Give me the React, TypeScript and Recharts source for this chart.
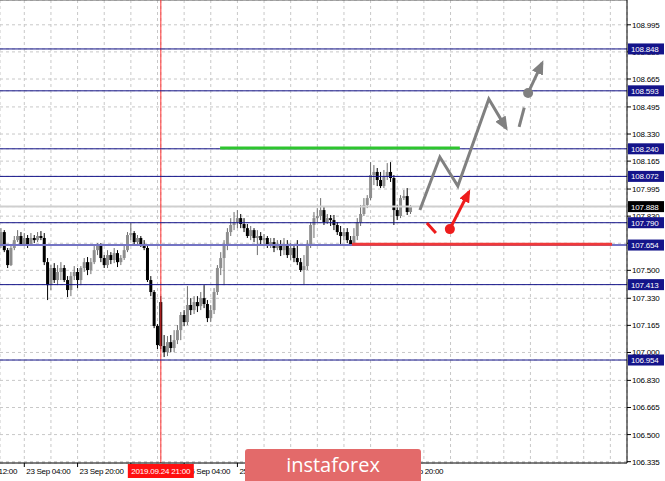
import React from "react";
import {
  ComposedChart,
  Bar,
  Line,
  Scatter,
  XAxis,
  YAxis,
  CartesianGrid,
  ReferenceLine,
} from "recharts";

// USDJPY H1, hour index 0 = first bar on the chart
const opens = [
  107.654, 107.733, 107.623, 107.532, 107.636, 107.684, 107.709, 107.66, 107.697, 107.66,
  107.697, 107.684, 107.709, 107.697, 107.55, 107.41, 107.514, 107.441, 107.49, 107.514,
  107.441, 107.38, 107.465, 107.49, 107.441, 107.514, 107.55, 107.502, 107.55, 107.623,
  107.654, 107.575, 107.532, 107.593, 107.563, 107.605, 107.55, 107.575, 107.623, 107.715,
  107.727, 107.672, 107.697, 107.654, 107.636, 107.441, 107.368, 107.161, 107.307, 107.039,
  107.002, 107.063, 107.027, 107.075, 107.136, 107.228, 107.185, 107.289, 107.258, 107.307,
  107.282, 107.331, 107.295, 107.209, 107.258, 107.368, 107.514, 107.575, 107.654, 107.733,
  107.776, 107.794, 107.818, 107.782, 107.757, 107.709, 107.745, 107.697, 107.709, 107.684,
  107.697, 107.654, 107.672, 107.636, 107.66, 107.623, 107.66, 107.593, 107.636, 107.575,
  107.55, 107.502, 107.526, 107.654, 107.776, 107.818, 107.831, 107.867, 107.794, 107.818,
  107.806, 107.776, 107.733, 107.709, 107.733, 107.684, 107.66, 107.709, 107.794, 107.843,
  107.898, 107.94, 108.08, 108.099, 108.05, 108.013, 108.074, 108.099, 108.062, 107.867,
  107.831, 107.94, 107.952, 107.855,
];
const highs = [
  107.757, 107.745, 107.636, 107.654, 107.709, 107.745, 107.733, 107.727, 107.715, 107.727,
  107.715, 107.733, 107.739, 107.727, 107.575, 107.532, 107.544, 107.532, 107.55, 107.532,
  107.465, 107.49, 107.526, 107.514, 107.526, 107.575, 107.581, 107.575, 107.648, 107.666,
  107.666, 107.593, 107.623, 107.611, 107.636, 107.623, 107.593, 107.654, 107.733, 107.788,
  107.739, 107.715, 107.709, 107.684, 107.648, 107.465, 107.38, 107.173, 107.343, 107.106,
  107.1, 107.106, 107.136, 107.167, 107.246, 107.258, 107.404, 107.331, 107.343, 107.343,
  107.368, 107.41, 107.319, 107.289, 107.392, 107.532, 107.611, 107.684, 107.757, 107.818,
  107.855, 107.867, 107.843, 107.818, 107.782, 107.77, 107.757, 107.745, 107.733, 107.721,
  107.709, 107.697, 107.697, 107.684, 107.684, 107.697, 107.684, 107.666, 107.654, 107.684,
  107.575, 107.593, 107.684, 107.794, 107.855, 107.879, 107.94, 107.885, 107.843, 107.837,
  107.837, 107.794, 107.77, 107.757, 107.757, 107.709, 107.757, 107.818, 107.898, 107.94,
  107.958, 108.159, 108.141, 108.123, 108.099, 108.111, 108.153, 108.159, 108.08, 107.898,
  107.958, 107.989, 108.001, 107.898,
];
const lows = [
  107.636, 107.611, 107.514, 107.526, 107.623, 107.672, 107.648, 107.648, 107.636, 107.648,
  107.666, 107.672, 107.684, 107.532, 107.319, 107.38, 107.423, 107.41, 107.441, 107.429,
  107.337, 107.343, 107.441, 107.392, 107.41, 107.49, 107.471, 107.477, 107.538, 107.593,
  107.55, 107.514, 107.514, 107.538, 107.544, 107.52, 107.532, 107.563, 107.611, 107.684,
  107.654, 107.648, 107.642, 107.623, 107.429, 107.343, 107.148, 107.021, 107.021, 106.972,
  106.978, 107.002, 107.002, 107.051, 107.075, 107.161, 107.167, 107.228, 107.234, 107.246,
  107.258, 107.27, 107.185, 107.185, 107.234, 107.35, 107.471, 107.41, 107.623, 107.709,
  107.745, 107.757, 107.757, 107.733, 107.697, 107.684, 107.672, 107.593, 107.66, 107.648,
  107.636, 107.636, 107.611, 107.623, 107.587, 107.593, 107.575, 107.563, 107.55, 107.532,
  107.49, 107.41, 107.502, 107.636, 107.697, 107.794, 107.806, 107.776, 107.782, 107.77,
  107.745, 107.715, 107.654, 107.684, 107.666, 107.648, 107.648, 107.684, 107.77, 107.831,
  107.879, 107.928, 108.019, 108.013, 108.001, 108.001, 108.05, 108.038, 107.776, 107.806,
  107.818, 107.928, 107.837, 107.843,
];
const closes = [
  107.733, 107.623, 107.532, 107.636, 107.684, 107.709, 107.66, 107.697, 107.66, 107.697,
  107.684, 107.709, 107.697, 107.55, 107.41, 107.514, 107.441, 107.49, 107.514, 107.441,
  107.38, 107.465, 107.49, 107.441, 107.514, 107.55, 107.502, 107.55, 107.623, 107.654,
  107.575, 107.532, 107.593, 107.563, 107.605, 107.55, 107.575, 107.623, 107.715, 107.727,
  107.672, 107.697, 107.654, 107.636, 107.441, 107.368, 107.161, 107.045, 107.039, 107.002,
  107.063, 107.027, 107.075, 107.136, 107.228, 107.185, 107.289, 107.258, 107.307, 107.282,
  107.331, 107.295, 107.209, 107.258, 107.368, 107.514, 107.575, 107.654, 107.733, 107.776,
  107.794, 107.818, 107.782, 107.757, 107.709, 107.745, 107.697, 107.709, 107.684, 107.697,
  107.654, 107.672, 107.636, 107.66, 107.623, 107.66, 107.593, 107.636, 107.575, 107.55,
  107.502, 107.526, 107.654, 107.776, 107.818, 107.831, 107.867, 107.794, 107.818, 107.806,
  107.776, 107.733, 107.709, 107.733, 107.684, 107.66, 107.709, 107.794, 107.843, 107.898,
  107.94, 108.08, 108.099, 108.05, 108.013, 108.074, 108.099, 108.062, 107.867, 107.831,
  107.94, 107.952, 107.855, 107.888,
];

const priceTicks = [
  108.995, 108.83, 108.665, 108.495, 108.33, 108.165, 107.995, 107.83, 107.665,
  107.5, 107.33, 107.165, 107.0, 106.83, 106.665, 106.5, 106.335,
];
const levels = [108.848, 108.593, 108.24, 108.072, 107.79, 107.654, 107.413, 106.954];
const bidPrice = 107.888;

const gridHours = [
  -9, -1, 7, 15, 23, 31, 39, 47, 55, 63, 71, 79, 87, 95, 103, 111, 119, 127, 135,
  143, 151, 159, 167, 175, 183,
];
const timeLabels: Record<number, string> = {
  [-9]: "22 Sep 12:00",
  7: "23 Sep 04:00",
  23: "23 Sep 20:00",
  39: "24 Sep 12:00",
  55: "25 Sep 04:00",
  71: "25 Sep 20:00",
  87: "26 Sep 12:00",
  103: "27 Sep 04:00",
  119: "27 Sep 20:00",
};
const cursorHour = 48;
const cursorLabel = "2019.09.24 21:00";

// forecast drawing
const resistanceSeg = [{ t: 65.8, p: 108.245 }, { t: 137.8, p: 108.245 }];
const supportSeg = [{ t: 105.4, p: 107.659 }, { t: 183.5, p: 107.659 }];
const bullPath = [
  { t: 125.8, p: 107.867 },
  { t: 131.8, p: 108.19 },
  { t: 137.2, p: 108.013 },
  { t: 146.5, p: 108.543 },
  { t: 151.7, p: 108.366 },
];
const bullDash = [{ t: 155.6, p: 108.373 }, { t: 158.3, p: 108.58 }];
const bullBreak = [{ t: 158.3, p: 108.58 }, { t: 162.5, p: 108.762 }];
const bullDot = [{ t: 158.3, p: 108.58 }];
const bearTick = [{ t: 127.9, p: 107.788 }, { t: 130.6, p: 107.727 }];
const bearArrow = [{ t: 134.8, p: 107.751 }, { t: 140.5, p: 107.977 }];
const bearDot = [{ t: 134.8, p: 107.751 }];

const candles = closes.map((c, i) => ({
  t: i,
  o: opens[i],
  h: highs[i],
  l: lows[i],
  c,
  range: [lows[i], highs[i]],
}));

const FONT = "'Liberation Sans', Arial, sans-serif";
const NAVY = "#14148a";

const Candle = (props: any) => {
  const { x, y, width, height, payload } = props;
  if (!payload || height == null) return null;
  const { o, h, l, c } = payload;
  const k = height / (h - l);
  const cx = x + width / 2;
  const top = y + (h - Math.max(o, c)) * k;
  const bot = y + (h - Math.min(o, c)) * k;
  const bull = c >= o;
  return (
    <g>
      <line x1={cx} x2={cx} y1={y} y2={y + height} stroke={bull ? "#6e6e6e" : "#000"} strokeWidth={1} />
      <rect
        x={cx - 1.5}
        y={top}
        width={3}
        height={Math.max(1, bot - top)}
        fill={bull ? "#8e8e8e" : "#000"}
      />
    </g>
  );
};

const PriceTick = (props: any) => {
  const { x, y, payload } = props;
  const v = payload.value;
  const boxed = levels.includes(v) || v === bidPrice;
  if (boxed) {
    return (
      <g>
        <rect x={x + 1} y={y - 5.5} width={36} height={11} fill={v === bidPrice ? "#000" : NAVY} />
        <text x={x + 4} y={y + 3} fill="#fff" fontSize={8} fontFamily={FONT} letterSpacing={-0.2}>
          {v.toFixed(3)}
        </text>
      </g>
    );
  }
  return (
    <g>
      <line x1={x} x2={x + 4} y1={y} y2={y} stroke="#000" />
      <text x={x + 5} y={y + 3} fill="#000" fontSize={8} fontFamily={FONT} letterSpacing={-0.2}>
        {v.toFixed(3)}
      </text>
    </g>
  );
};

const TimeTick = (props: any) => {
  const { x, y, payload } = props;
  const v = payload.value;
  if (v === cursorHour) {
    return (
      <g>
        <rect x={x - 33} y={y + 1} width={66} height={14} fill="#ff1010" />
        <text x={x} y={y + 11} textAnchor="middle" fill="#fff" fontSize={8} fontFamily={FONT} letterSpacing={-0.2}>
          {cursorLabel}
        </text>
      </g>
    );
  }
  const label = timeLabels[v];
  if (!label) return <g />;
  return (
    <g>
      <line x1={x} x2={x} y1={y} y2={y + 4} stroke="#000" />
      <text x={x + 2} y={y + 11} fill="#000" fontSize={8} fontFamily={FONT} letterSpacing={-0.3}>
        {label}
      </text>
    </g>
  );
};

const Dot = (color: string) => (props: any) =>
  <circle cx={props.cx} cy={props.cy} r={5} fill={color} />;

export default function App() {
  return (
    <div
      style={{
        position: "absolute",
        left: 0,
        top: 0,
        width: 665,
        height: 481,
        overflow: "hidden",
        background: "#fff",
      }}
    >
      <svg width={0} height={0} style={{ position: "absolute" }}>
        <defs>
          <marker id="ahGray" viewBox="0 0 14 12" refX={11} refY={6} markerWidth={14} markerHeight={12} markerUnits="userSpaceOnUse" orient="auto">
            <path d="M0,0 L14,6 L0,12 Z" fill="#808080" />
          </marker>
          <marker id="ahRed" viewBox="0 0 13 11" refX={10} refY={5.5} markerWidth={13} markerHeight={11} markerUnits="userSpaceOnUse" orient="auto">
            <path d="M0,0 L13,5.5 L0,11 Z" fill="#ee1c1c" />
          </marker>
        </defs>
      </svg>

      <ComposedChart
        width={665}
        height={481}
        data={candles}
        margin={{ top: 0, right: 0, bottom: 0, left: 0 }}
      >
        <CartesianGrid stroke="#c8c8c8" strokeDasharray="3 3" />
        <XAxis
          dataKey="t"
          type="number"
          domain={[-0.3, 188]}
          allowDataOverflow
          ticks={[...gridHours, cursorHour]}
          interval={0}
          tick={<TimeTick />}
          tickLine={false}
          tickSize={0}
          tickMargin={0}
          height={18}
          axisLine={{ stroke: "#000" }}
        />
        <YAxis
          orientation="right"
          type="number"
          domain={[106.327, 109.146]}
          allowDataOverflow
          ticks={[...priceTicks, ...levels, bidPrice]}
          interval={0}
          tick={<PriceTick />}
          tickLine={false}
          tickSize={0}
          tickMargin={0}
          width={38}
          axisLine={{ stroke: "#000" }}
        />

        <ReferenceLine y={109.146} stroke="#555" />
        <ReferenceLine y={bidPrice} stroke="#cfcfcf" strokeWidth={2} />
        <ReferenceLine x={cursorHour} stroke="#ff3030" />

        <Bar dataKey="range" barSize={3} isAnimationActive={false} shape={(p: any) => <Candle {...p} />} />

        {levels.map((v) => (
          <ReferenceLine
            key={v}
            y={v}
            stroke={v === 107.654 ? "#7474c4" : NAVY}
            strokeWidth={v === 107.654 ? 2 : 1}
          />
        ))}

        <Line data={resistanceSeg} dataKey="p" stroke="#2ec52e" strokeWidth={3} dot={false} activeDot={false} isAnimationActive={false} />
        <Line data={supportSeg} dataKey="p" stroke="#f03a3a" strokeWidth={3} dot={false} activeDot={false} isAnimationActive={false} />

        <Line data={bullPath} dataKey="p" stroke="#808080" strokeWidth={3} strokeLinejoin="miter" dot={false} activeDot={false} isAnimationActive={false} markerEnd="url(#ahGray)" />
        <Line data={bullDash} dataKey="p" stroke="#808080" strokeWidth={3} strokeDasharray="20 40" dot={false} activeDot={false} isAnimationActive={false} />
        <Line data={bullBreak} dataKey="p" stroke="#808080" strokeWidth={3} dot={false} activeDot={false} isAnimationActive={false} markerEnd="url(#ahGray)" />
        <Scatter data={bullDot} dataKey="p" isAnimationActive={false} shape={Dot("#808080")} />

        <Line data={bearTick} dataKey="p" stroke="#ee1c1c" strokeWidth={3} dot={false} activeDot={false} isAnimationActive={false} />
        <Line data={bearArrow} dataKey="p" stroke="#ee1c1c" strokeWidth={3} dot={false} activeDot={false} isAnimationActive={false} markerEnd="url(#ahRed)" />
        <Scatter data={bearDot} dataKey="p" isAnimationActive={false} shape={Dot("#ee1c1c")} />
      </ComposedChart>

      <div
        style={{
          position: "absolute",
          left: 245,
          top: 449,
          width: 176,
          height: 40,
          background: "#e36a6a",
          borderRadius: 3,
          color: "#fff",
          fontFamily: "'Open Sans', sans-serif",
          fontSize: 20,
          lineHeight: "32px",
          textAlign: "center",
        }}
      >
        instaforex
      </div>
    </div>
  );
}
